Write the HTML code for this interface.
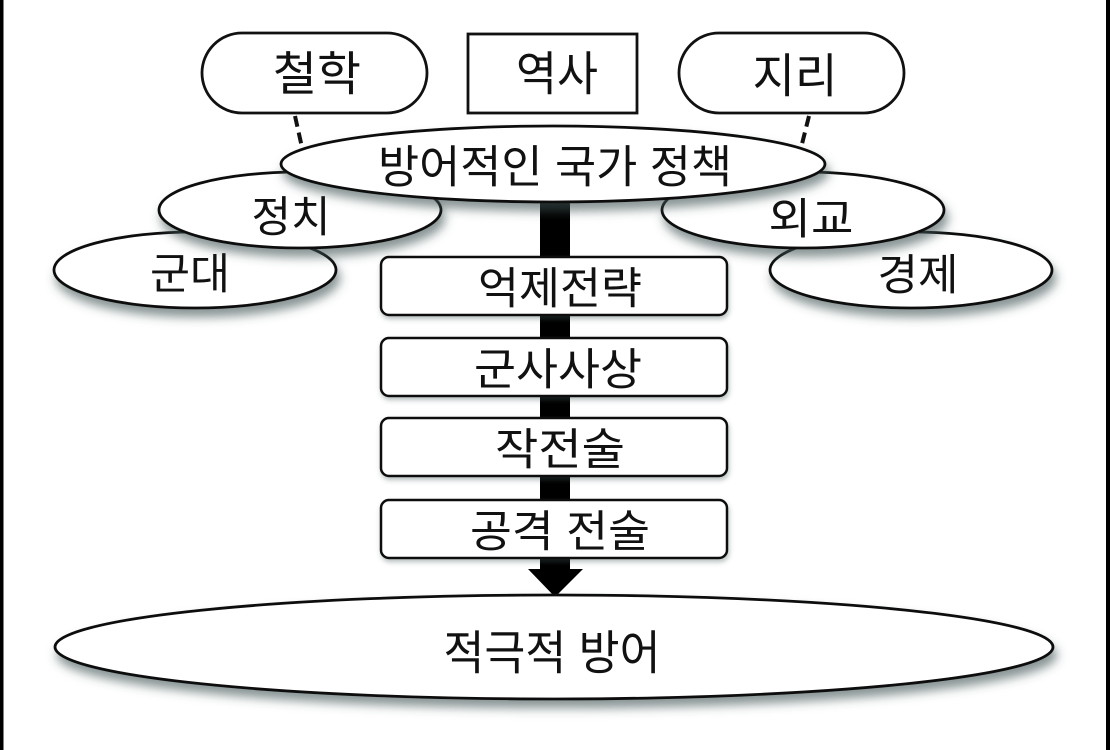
<!DOCTYPE html>
<html><head><meta charset="utf-8">
<style>
html,body{margin:0;padding:0;background:#fff;}
svg{display:block;}
text{font-family:"Liberation Sans","Noto Sans CJK KR","NanumGothic",sans-serif;fill:#111;text-anchor:middle;dominant-baseline:central;}
</style></head>
<body>
<svg width="1110" height="750" viewBox="0 0 1110 750" xmlns="http://www.w3.org/2000/svg">
<defs>
<filter id="sh" x="-20%" y="-40%" width="140%" height="200%">
<feDropShadow dx="3" dy="8" stdDeviation="5" flood-color="#3d4f4f" flood-opacity="0.6"/>
</filter>
<filter id="shb" x="-10%" y="-30%" width="120%" height="170%">
<feDropShadow dx="1" dy="3" stdDeviation="2.5" flood-color="#3d4f4f" flood-opacity="0.35"/>
</filter>
</defs>
<rect x="0" y="0" width="1110" height="750" fill="#fff"/>
<rect x="0" y="0" width="3.5" height="750" fill="#000"/>
<rect x="1106" y="0" width="4" height="750" fill="#000"/>

<!-- top nodes -->
<rect x="202" y="33" width="225" height="80" rx="40" ry="40" fill="#fff" stroke="#111" stroke-width="2.8"/>
<text x="317" y="74" font-size="47" textLength="88" lengthAdjust="spacingAndGlyphs">철학</text>
<rect x="468" y="34" width="169" height="79" fill="#fff" stroke="#111" stroke-width="2.8"/>
<text x="557" y="74" font-size="47" textLength="82" lengthAdjust="spacingAndGlyphs">역사</text>
<rect x="679" y="33" width="225" height="80" rx="40" ry="40" fill="#fff" stroke="#111" stroke-width="2.8"/>
<text x="795" y="76" font-size="47" textLength="85" lengthAdjust="spacingAndGlyphs">지리</text>

<!-- dashed connectors -->
<line x1="295" y1="116" x2="303" y2="152" stroke="#111" stroke-width="4" stroke-dasharray="11 6"/>
<line x1="809" y1="116" x2="800" y2="152" stroke="#111" stroke-width="4" stroke-dasharray="11 6"/>

<!-- central bar -->
<rect x="540" y="195" width="30" height="375" fill="#000"/>
<polygon points="528,569 583,569 555,597" fill="#000"/>

<!-- side ellipses -->
<ellipse cx="195" cy="270" rx="141" ry="38" fill="#fff" stroke="#111" stroke-width="2.8" filter="url(#sh)"/>
<text x="190" y="275" font-size="43" textLength="80" lengthAdjust="spacingAndGlyphs">군대</text>
<ellipse cx="300" cy="210" rx="141" ry="38" fill="#fff" stroke="#111" stroke-width="2.8" filter="url(#sh)"/>
<text x="291" y="218" font-size="43" textLength="79" lengthAdjust="spacingAndGlyphs">정치</text>

<ellipse cx="911" cy="270" rx="141" ry="38" fill="#fff" stroke="#111" stroke-width="2.8" filter="url(#sh)"/>
<text x="918" y="276" font-size="43" textLength="81" lengthAdjust="spacingAndGlyphs">경제</text>
<ellipse cx="803" cy="210" rx="141" ry="38" fill="#fff" stroke="#111" stroke-width="2.8" filter="url(#sh)"/>
<text x="811" y="220" font-size="43" textLength="85" lengthAdjust="spacingAndGlyphs">외교</text>

<!-- main ellipse -->
<ellipse cx="553" cy="164" rx="272" ry="38" fill="#fff" stroke="#111" stroke-width="2.8" filter="url(#sh)"/>
<text x="555" y="167" font-size="45" textLength="354" lengthAdjust="spacingAndGlyphs">방어적인 국가 정책</text>

<!-- boxes -->
<rect x="381" y="257" width="346" height="58" rx="8" ry="8" fill="#fff" stroke="#111" stroke-width="2.5" filter="url(#shb)"/>
<text x="560" y="289" font-size="44" textLength="164" lengthAdjust="spacingAndGlyphs">억제전략</text>
<rect x="381" y="338" width="346" height="58" rx="8" ry="8" fill="#fff" stroke="#111" stroke-width="2.5" filter="url(#shb)"/>
<text x="558" y="370" font-size="44" textLength="168" lengthAdjust="spacingAndGlyphs">군사사상</text>
<rect x="381" y="418" width="346" height="58" rx="8" ry="8" fill="#fff" stroke="#111" stroke-width="2.5" filter="url(#shb)"/>
<text x="560" y="450" font-size="44" textLength="130" lengthAdjust="spacingAndGlyphs">작전술</text>
<rect x="381" y="500" width="346" height="58" rx="8" ry="8" fill="#fff" stroke="#111" stroke-width="2.5" filter="url(#shb)"/>
<text x="560" y="532" font-size="44" textLength="180" lengthAdjust="spacingAndGlyphs">공격 전술</text>

<!-- bottom ellipse -->
<ellipse cx="554" cy="647" rx="499" ry="52" fill="#fff" stroke="#111" stroke-width="2.8" filter="url(#sh)"/>
<text x="552" y="653" font-size="47" textLength="217" lengthAdjust="spacingAndGlyphs">적극적 방어</text>
</svg>
</body></html>
